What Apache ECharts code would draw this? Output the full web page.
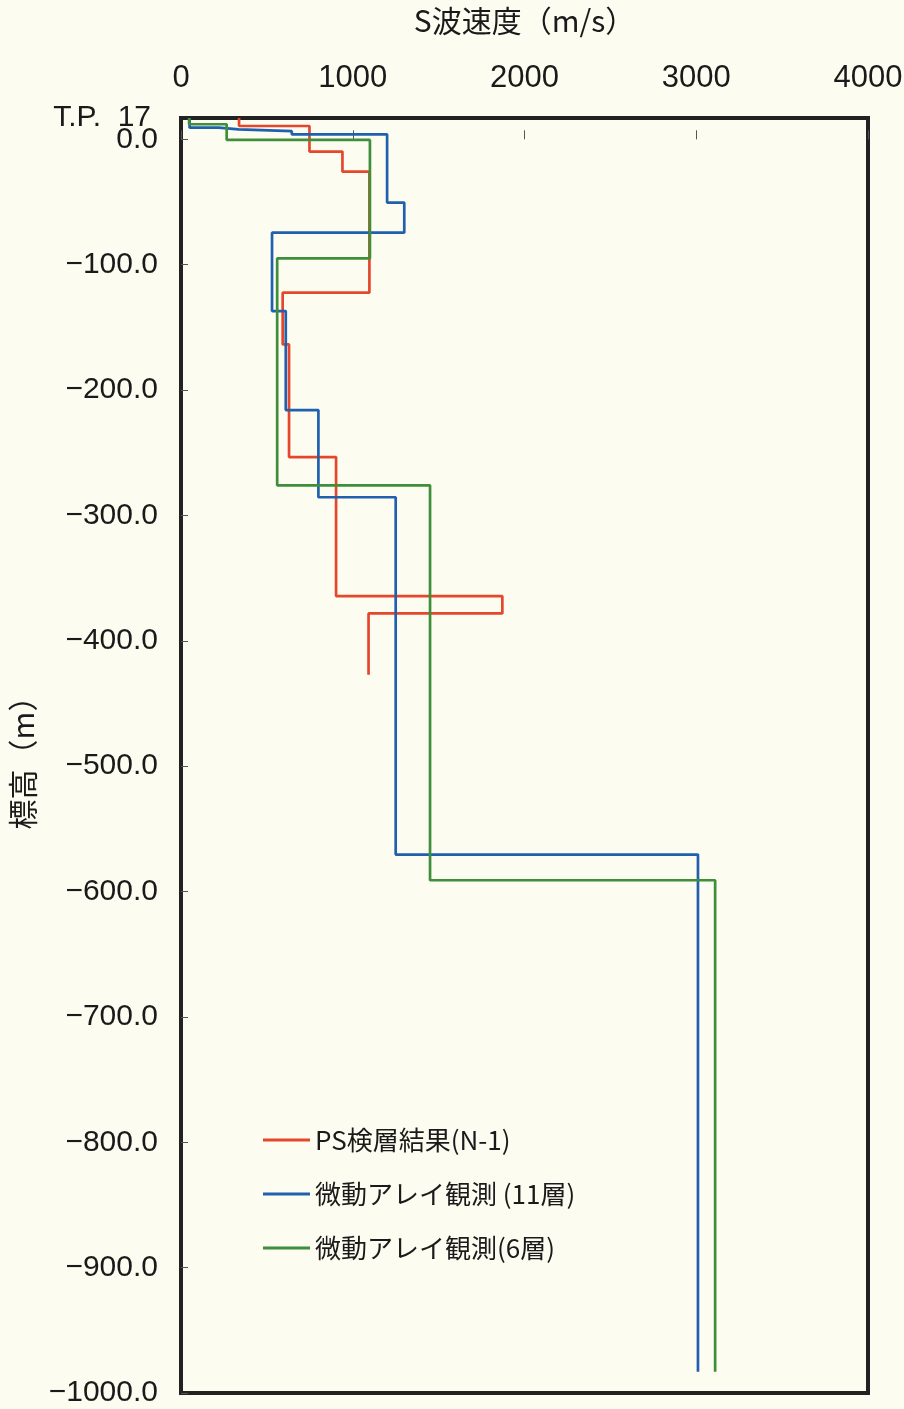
<!DOCTYPE html>
<html>
<head>
<meta charset="utf-8">
<script src="https://cdn.jsdelivr.net/npm/echarts@6/dist/echarts.min.js"></script>
<style>
html,body{margin:0;padding:0;background:#fcfcf1;}
#c{width:904px;height:1409px;}
</style>
</head>
<body>
<div id="c"></div>
<script>
// Series names
const seriesNames = ['PS検層結果(N-1)', '微動アレイ観測 (11層)', '微動アレイ観測(6層)'];
// Layer boundaries (elevation, m) and S-wave velocities (m/s) per layer
const psBounds = [17, 10.6, -9.8, -25.8, -122.3, -163.6, -253.5, -364.4, -378.2, -427];
const psVel    = [338, 748, 940, 1097, 592, 629, 903, 1871, 1092];
const arr11Bounds = [17, 9.3, 8, 6.5, 4, -50.5, -74.5, -137, -216, -285.5, -570.5, -983];
const arr11Vel    = [50, 220, 335, 645, 1200, 1300, 530, 610, 800, 1250, 3010];
const arr6Bounds = [17, 12, -0.5, -95, -276, -591, -983];
const arr6Vel    = [47, 266, 1100, 560, 1450, 3110];
// Axis ticks
const xTicks = [0, 1000, 2000, 3000, 4000];
const yMin = -1000, yMax = 17, yStep = 100;
const topLabel = 'T.P.  17';

function steps(bounds, vel) {
  const pts = [];
  for (let i = 0; i < vel.length; i++) {
    pts.push([vel[i], bounds[i]]);
    pts.push([vel[i], bounds[i + 1]]);
  }
  return pts;
}

const colors = ['#e5472d', '#2160ae', '#3f8e3a'];
const fam = "'Liberation Sans', 'Noto Sans CJK JP', sans-serif";
const jfam = "'Noto Sans CJK JP', 'Liberation Sans', sans-serif";

const chart = echarts.init(document.getElementById('c'), null, {renderer: 'canvas'});
chart.setOption({
  backgroundColor: '#fcfcf1',
  animation: false,
  grid: {left: 181, right: 36, top: 118, bottom: 16, show: true, borderColor: '#222', borderWidth: 4,
         backgroundColor: 'transparent', containLabel: false, outerBoundsMode: 'none'},
  legend: {
    orient: 'vertical', left: 258, top: 1120,
    itemWidth: 47, itemHeight: 3, itemGap: 24,
    textStyle: {fontFamily: jfam, fontSize: 26, color: '#1a1a1a', lineHeight: 30},
    data: seriesNames.map(function (n) { return {name: n, icon: 'rect'}; })
  },
  xAxis: {
    type: 'value', position: 'top', min: xTicks[0], max: xTicks[xTicks.length - 1], interval: 1000,
    name: 'S波速度（m/s）', nameLocation: 'middle', nameGap: 82,
    nameTextStyle: {fontFamily: jfam, fontSize: 30, color: '#1a1a1a'},
    axisLine: {show: false},
    axisTick: {show: true, inside: false, length: 9, lineStyle: {color: '#555', width: 1}},
    axisLabel: {fontFamily: fam, fontSize: 31, color: '#1a1a1a', margin: 24,
      formatter: function (v) { return String(v); }},
    splitLine: {show: false}
  },
  yAxis: [{
    type: 'value', min: yMin, max: yMax, interval: yStep,
    name: '標高（m）', nameLocation: 'middle', nameGap: 126,
    nameTextStyle: {fontFamily: jfam, fontSize: 30, color: '#1a1a1a'},
    axisLine: {show: false},
    axisTick: {show: true, inside: true, length: 7, lineStyle: {color: '#555', width: 1}},
    axisLabel: {
      fontFamily: fam, fontSize: 30, color: '#1a1a1a', margin: 23,
      showMaxLabel: false, showMinLabel: true,
      formatter: function (v) {
        if (v === yMax) return '';
        if (v === 0) return '0.0';
        return (v < 0 ? '\u2212' : '') + Math.abs(v).toFixed(1);
      }
    },
    splitLine: {show: false}
  }, {
    type: 'value', position: 'left', min: yMin, max: yMax, interval: yStep,
    axisLine: {show: false}, axisTick: {show: false}, splitLine: {show: false},
    axisLabel: {
      fontFamily: fam, fontSize: 30, color: '#1a1a1a', margin: 30,
      showMaxLabel: true, showMinLabel: false,
      formatter: function (v) { return v === yMax ? topLabel : ''; }
    }
  }],
  series: [
    {name: seriesNames[0], type: 'line', data: steps(psBounds, psVel), symbol: 'none', lineStyle: {color: colors[0], width: 2.7}, itemStyle: {color: colors[0]}},
    {name: seriesNames[1], type: 'line', data: steps(arr11Bounds, arr11Vel), symbol: 'none', lineStyle: {color: colors[1], width: 2.7}, itemStyle: {color: colors[1]}},
    {name: seriesNames[2], type: 'line', data: steps(arr6Bounds, arr6Vel), symbol: 'none', lineStyle: {color: colors[2], width: 2.7}, itemStyle: {color: colors[2]}}
  ]
});
</script>
</body>
</html>
